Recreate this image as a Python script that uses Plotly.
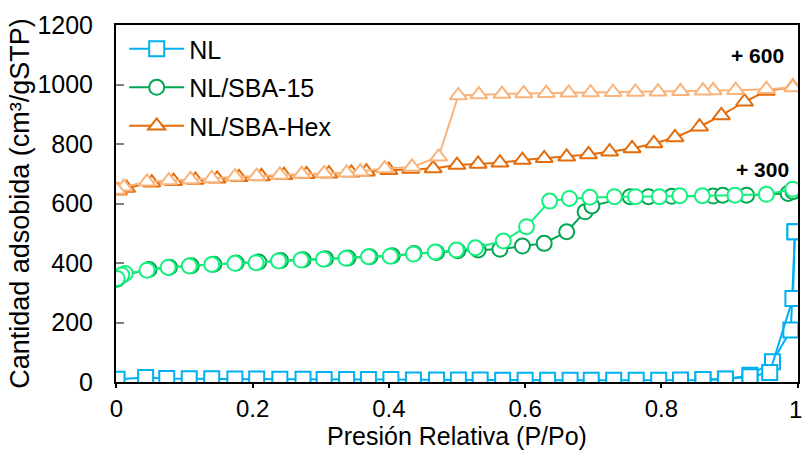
import plotly.graph_objects as go

# ---------------- data ----------------
# NL (no offset)
nl_ads_p = [0.001, 0.043, 0.074, 0.107, 0.140, 0.174, 0.206, 0.240, 0.274, 0.305, 0.338, 0.370,
            0.403, 0.436, 0.470, 0.502, 0.534, 0.567, 0.600, 0.633, 0.666, 0.697, 0.730, 0.763,
            0.796, 0.828, 0.861, 0.894, 0.930, 0.963, 0.990, 0.996]
nl_ads_v = [9, 15, 12, 11, 11, 10, 10, 9, 9, 8, 8, 8, 8, 7, 7, 7, 7, 6, 6, 6, 6, 6, 6, 6,
            6, 7, 7, 9, 23, 68, 175, 505]
nl_des_p = [0.996, 0.993, 0.959, 0.930, 0.894, 0.861]
nl_des_v = [505, 281, 32, 18, 10, 8]

# NL/SBA-15 (plotted with +300 offset)
sba15_offset = 300
sba15_ads_p = [0.001, 0.008, 0.048, 0.078, 0.110, 0.143, 0.176, 0.209, 0.241, 0.274, 0.307, 0.340,
               0.372, 0.405, 0.437, 0.470, 0.501, 0.531, 0.563, 0.596, 0.628, 0.661, 0.688, 0.698,
               0.754, 0.781, 0.815, 0.876, 0.890, 0.925, 0.986, 0.993]
sba15_ads_v = [45, 58, 78, 86, 91, 96, 100, 103, 108, 111, 114, 117,
               121, 124, 132, 135, 141, 144, 146, 157, 166, 205, 272, 292,
               323, 323, 324, 325, 328, 328, 334, 340]
sba15_des_p = [0.993, 0.954, 0.908, 0.860, 0.827, 0.797, 0.762, 0.731, 0.695, 0.665, 0.636, 0.602,
               0.568, 0.527, 0.499, 0.468, 0.436, 0.402, 0.370, 0.337, 0.304, 0.271, 0.238, 0.205,
               0.174, 0.140, 0.107, 0.076, 0.045, 0.013, 0.008, 0.001]
sba15_des_v = [348, 331, 328, 326, 326, 323, 323, 323, 321, 317, 308, 222,
               174, 151, 144, 137, 130, 123, 121, 116, 113, 110, 107, 101,
               99, 95, 90, 85, 76, 65, 60, 48]

# NL/SBA-Hex (plotted with +600 offset)
hex_offset = 600
hex_ads_p = [0.003, 0.015, 0.052, 0.084, 0.116, 0.148, 0.180, 0.213, 0.246, 0.279, 0.312, 0.345,
             0.367, 0.400, 0.432, 0.465, 0.500, 0.531, 0.563, 0.596, 0.628, 0.661, 0.693, 0.724,
             0.757, 0.789, 0.820, 0.856, 0.888, 0.922, 0.954, 0.993]
hex_ads_v = [43, 52, 70, 75, 79, 83, 88, 91, 95, 98, 100, 103,
             107, 112, 116, 118, 129, 133, 137, 146, 152, 157, 165, 174,
             185, 202, 222, 258, 296, 342, 378, 392]
hex_des_p = [0.993, 0.954, 0.909, 0.876, 0.861, 0.828, 0.795, 0.762, 0.729, 0.696, 0.664, 0.631,
             0.598, 0.566, 0.532, 0.502, 0.473, 0.434, 0.394, 0.358, 0.338, 0.305, 0.272, 0.240,
             0.206, 0.174, 0.140, 0.109, 0.077, 0.045, 0.011, 0.001]
hex_des_v = [390, 384, 381, 380, 379, 377, 376, 375, 374, 373, 372, 371,
             370, 368, 366, 363, 157, 123, 118, 107, 103, 101, 99, 96,
             92, 90, 84, 81, 77, 73, 56, 45]

x_ticks = [0, 0.2, 0.4, 0.6, 0.8, 1]
x_ticktext = ["0", "0.2", "0.4", "0.6", "0.8", "1"]
y_ticks = [0, 200, 400, 600, 800, 1000, 1200]

# ---------------- styles ----------------
C_NL = "#00B0F0"
C_15A = "#00A650"
C_15D = "#14F07E"
C_HXA = "#E46C0A"
C_HXD = "#F9B47C"
FONT = "Liberation Sans, Arial, sans-serif"

def tr(x, y, color, symbol, name, show, group):
    return go.Scatter(
        x=x, y=y, mode="lines+markers", name=name, showlegend=show, legendgroup=group,
        line=dict(color=color, width=2),
        marker=dict(symbol=symbol, size=15, color="white", line=dict(color=color, width=2)),
    )

fig = go.Figure()
fig.add_trace(tr(nl_ads_p, nl_ads_v, C_NL, "square", "NL", True, "a"))
fig.add_trace(tr(nl_des_p, nl_des_v, C_NL, "square", "NL", False, "a"))
fig.add_trace(tr(sba15_ads_p, [v + sba15_offset for v in sba15_ads_v], C_15A, "circle", "NL/SBA-15", True, "b"))
fig.add_trace(tr(sba15_des_p, [v + sba15_offset for v in sba15_des_v], C_15D, "circle", "NL/SBA-15", False, "b"))
fig.add_trace(tr(hex_ads_p, [v + hex_offset for v in hex_ads_v], C_HXA, "triangle-up", "NL/SBA-Hex", True, "c"))
fig.add_trace(tr(hex_des_p, [v + hex_offset for v in hex_des_v], C_HXD, "triangle-up", "NL/SBA-Hex", False, "c"))

fig.add_annotation(x=0.977, y=1096, xref="x", yref="y", text="<b>+ 600</b>", showarrow=False,
                   xanchor="right", yanchor="middle", xshift=4,
                   font=dict(size=21, color="black", family=FONT))
fig.add_annotation(x=0.987, y=713, xref="x", yref="y", text="<b>+ 300</b>", showarrow=False,
                   xanchor="right", yanchor="middle", xshift=2,
                   font=dict(size=21, color="black", family=FONT))

# last x tick label placed so that it stays inside the page edge
fig.add_annotation(x=x_ticks[-1], y=0, xref="x", yref="paper", text=x_ticktext[-1],
                   showarrow=False, xanchor="right", yanchor="middle", xshift=5, yshift=-27,
                   borderpad=0, font=dict(size=24, color="black", family=FONT))

fig.update_layout(
    width=802, height=456,
    margin=dict(l=116, r=4, t=25, b=74, autoexpand=False),
    paper_bgcolor="white", plot_bgcolor="white",
    font=dict(family=FONT, size=25, color="black"),
    showlegend=True,
    legend=dict(x=0.012, y=0.997, xanchor="left", yanchor="top", bgcolor="rgba(0,0,0,0)",
                font=dict(size=25), itemwidth=55, tracegroupgap=3),
    xaxis=dict(range=[-0.0005, 1.0005], tickvals=x_ticks,
               ticktext=x_ticktext[:-1] + [""],
               showgrid=False, zeroline=False, showline=True, linecolor="black", linewidth=2,
               mirror=True, ticks="outside", ticklen=4, tickcolor="black", tickwidth=2,
               ticklabeloverflow="allow", automargin=False,
               title=dict(text="Presión Relativa (P/Po)", standoff=7, font=dict(size=25)),
               tickfont=dict(size=24)),
    yaxis=dict(range=[0, 1200], tickvals=y_ticks, showgrid=False, zeroline=False,
               showline=True, linecolor="black", linewidth=2, mirror=True,
               ticks="inside", ticklen=8, tickcolor="#808080", tickwidth=2,
               ticklabelstandoff=16, automargin=False,
               title=dict(text="Cantidad adsobida (cm³/gSTP)", standoff=0, font=dict(size=27)),
               tickfont=dict(size=25)),
)

fig.write_html("out.html")
